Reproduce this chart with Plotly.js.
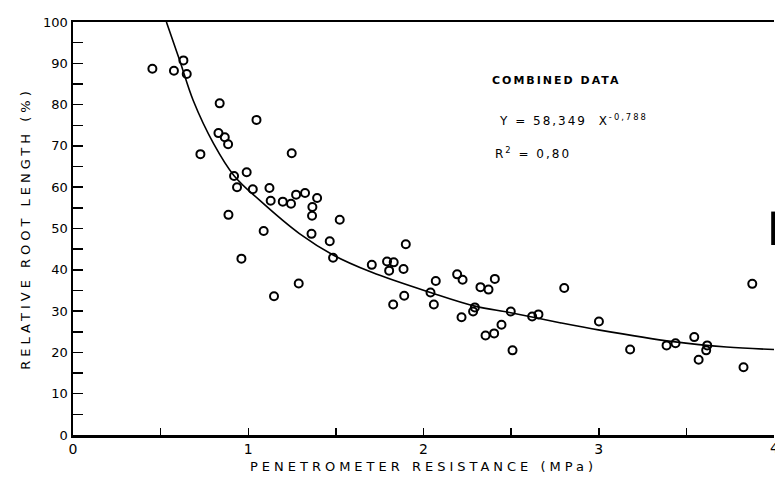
<!DOCTYPE html>
<html>
<head>
<meta charset="utf-8">
<script src="https://cdn.plot.ly/plotly-3.0.1.min.js"></script>
<style>
  html, body { margin: 0; padding: 0; background: #fff; }
  #chart { width: 775px; height: 482px; }
</style>
</head>
<body>
<div id="chart"></div>
<script>
// Penetrometer resistance (MPa) of each observation
const resistance = [
  0.453, 0.576, 0.630, 0.649, 0.837, 1.047, 0.830, 0.866, 0.885, 0.727,
  1.248, 0.991, 0.919, 0.936, 1.026, 1.121, 1.128, 1.197, 1.244, 1.273,
  1.324, 1.393, 1.366, 1.364, 0.887,
  1.088, 1.361, 0.961, 1.288, 1.147,
  1.522, 1.465, 1.484, 1.899, 1.705, 1.792, 1.830, 1.804, 1.886, 1.890,
  1.827, 2.070, 2.040, 2.059, 2.192, 2.223, 2.407, 2.325, 2.371, 2.293,
  2.283, 2.217, 2.445, 2.403, 2.354, 2.498, 2.620, 2.656, 2.508,
  2.803, 3.001, 3.179, 3.387, 3.438, 3.545, 3.619, 3.613, 3.570, 3.826, 3.876
];
// Relative root length (%) of each observation
const rootLength = [
  88.7, 88.2, 90.7, 87.4, 80.3, 76.3, 73.1, 72.1, 70.4, 68.0,
  68.2, 63.6, 62.7, 60.0, 59.5, 59.8, 56.7, 56.5, 56.0, 58.2,
  58.6, 57.4, 55.2, 53.1, 53.3,
  49.4, 48.7, 42.7, 36.7, 33.6,
  52.1, 46.9, 42.9, 46.2, 41.2, 42.0, 41.8, 39.8, 40.2, 33.7,
  31.6, 37.3, 34.5, 31.6, 38.9, 37.6, 37.8, 35.8, 35.2, 30.9,
  29.9, 28.5, 26.7, 24.6, 24.1, 29.9, 28.7, 29.2, 20.5,
  35.6, 27.5, 20.7, 21.7, 22.2, 23.7, 21.7, 20.5, 18.2, 16.4, 36.6
];
// Fitted curve
const curveX = [0.533, 0.609, 0.686, 0.803, 0.919, 1.066, 1.294, 1.484, 1.705, 2.04, 2.293, 2.498, 2.778, 3.006, 3.425, 3.729, 4.0];
const curveY = [100, 90.7, 81, 70.5, 62.8, 56.8, 48.7, 43.6, 39.4, 34.5, 31.2, 29.6, 27.2, 25.4, 22.6, 21.3, 20.7];

const xTickVals = [0, 1, 2, 3];
const xTickText = ['0', '1', '2', '3'];
const xLastTick = 4;
const xLastTickText = '4';
const yTickVals = [0, 10, 20, 30, 40, 50, 60, 70, 80, 90, 100];
const yTickText = ['0', '10', '20', '30', '40', '50', '60', '70', '80', '90', '100'];

const FONT = 'DejaVu Sans, Liberation Sans, sans-serif';

const traces = [
  {
    x: curveX, y: curveY, type: 'scatter', mode: 'lines',
    line: { color: '#000', width: 1.6, shape: 'spline', smoothing: 1 },
    hoverinfo: 'skip', showlegend: false
  },
  {
    x: resistance, y: rootLength, type: 'scatter', mode: 'markers',
    marker: { symbol: 'circle-open', size: 8, color: '#000', line: { color: '#000', width: 2 } },
    showlegend: false
  }
];

const layout = {
  width: 775, height: 482,
  margin: { l: 73, r: 1, t: 22, b: 47 },
  paper_bgcolor: '#fff', plot_bgcolor: '#fff',
  font: { family: FONT, color: '#000', size: 12 },
  showlegend: false,
  xaxis: {
    range: [0, 4], tickmode: 'array', tickvals: xTickVals, ticktext: xTickText,
    ticks: 'inside', ticklen: 7, tickwidth: 1.5, tickcolor: '#000',
    minor: { dtick: 0.5, ticks: 'inside', ticklen: 7, tickwidth: 1.5, tickcolor: '#000' },
    showline: true, linecolor: '#000', linewidth: 2.5, mirror: true,
    showgrid: false, zeroline: false,
    tickfont: { family: FONT, size: 14, color: '#000' },
    title: { text: 'PENETROMETER RESISTANCE (MPa)', font: { family: FONT, size: 13, color: '#000' }, standoff: 6 }
  },
  yaxis: {
    range: [0, 100], tickmode: 'array', tickvals: yTickVals, ticktext: yTickText,
    ticks: 'inside', ticklen: 10, tickwidth: 1.5, tickcolor: '#000',
    minor: { dtick: 5, ticks: 'inside', ticklen: 10, tickwidth: 1.5, tickcolor: '#000' },
    showline: true, linecolor: '#000', linewidth: 2.5,
    showgrid: false, zeroline: false,
    tickfont: { family: FONT, size: 13, color: '#000' },
    title: { text: 'RELATIVE ROOT LENGTH (%)', font: { family: FONT, size: 13, color: '#000' }, standoff: 10 }
  },
  annotations: [
    { xref: 'x', yref: 'paper', x: xLastTick, y: 0, xanchor: 'center', yanchor: 'top', yshift: -3, showarrow: false,
      text: xLastTickText, font: { family: FONT, size: 14, color: '#000' } },
    { xref: 'paper', yref: 'paper', x: 0.690, y: 0.858, xanchor: 'center', yanchor: 'middle', showarrow: false,
      text: '<b>COMBINED DATA</b>', font: { family: FONT, size: 11, color: '#000' } },
    { xref: 'paper', yref: 'paper', x: 0.714, y: 0.763, xanchor: 'center', yanchor: 'middle', showarrow: false,
      text: 'Y = 58,349  X<sup>-0,788</sup>', font: { family: FONT, size: 12, color: '#000' } },
    { xref: 'paper', yref: 'paper', x: 0.6555, y: 0.683, xanchor: 'center', yanchor: 'middle', showarrow: false,
      text: 'R<sup>2</sup> = 0,80', font: { family: FONT, size: 12, color: '#000' } }
  ],
  shapes: [
    { type: 'rect', xref: 'paper', yref: 'paper', x0: 0.996, x1: 1.002, y0: 0.46, y1: 0.541,
      fillcolor: '#000', line: { width: 0 } }
  ]
};

Plotly.newPlot('chart', traces, layout, { staticPlot: true, displayModeBar: false }).then(function () {
  document.querySelectorAll('.xtitle, .ytitle').forEach(function (el) { el.style.letterSpacing = '4px'; });
  document.querySelectorAll('.annotation-text').forEach(function (el) {
    if (el.textContent.length > 2) el.style.letterSpacing = '2px';
  });
});
</script>
</body>
</html>
